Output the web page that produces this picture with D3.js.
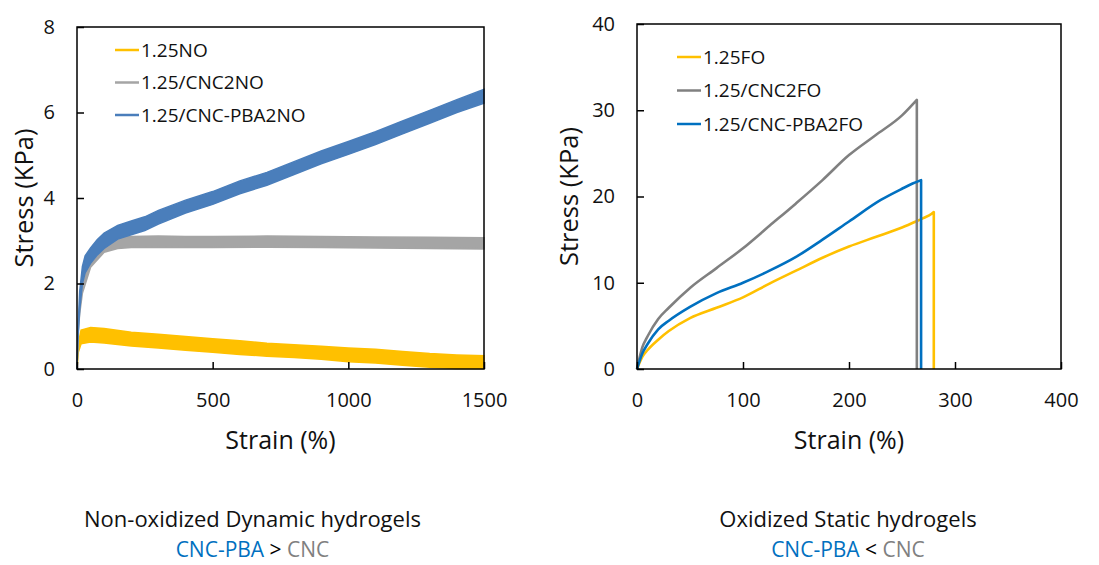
<!DOCTYPE html>
<html>
<head>
<meta charset="utf-8">
<script src="https://cdn.jsdelivr.net/npm/d3@7"></script>
<style>
  body { margin: 0; background: #fff; }
  svg text { font-family: "Open Sans", "Noto Sans", sans-serif; fill: #111; }
</style>
</head>
<body>
<svg id="chart" width="1099" height="565"></svg>
<script>
// ---- left panel data (non-oxidized, noisy curves drawn as bands) ----
const leftSeries = ['1.25NO', '1.25/CNC2NO', '1.25/CNC-PBA2NO'];
const leftXTicks = [0, 500, 1000, 1500];
const leftYTicks = [0, 2, 4, 6, 8];

const noStrain     = [0, 5, 15, 50, 100, 200, 300, 400, 500, 600, 700, 800, 900, 1000, 1100, 1200, 1300, 1400, 1500];
const noStress     = [0, 0.5, 0.75, 0.8, 0.78, 0.7, 0.65, 0.6, 0.55, 0.5, 0.45, 0.42, 0.38, 0.33, 0.3, 0.25, 0.2, 0.17, 0.16];
const noNoise      = [0, 0.1, 0.16, 0.17, 0.17, 0.16, 0.16, 0.16, 0.16, 0.16, 0.15, 0.15, 0.15, 0.16, 0.16, 0.16, 0.16, 0.16, 0.15];

const cncNoStrain  = [0, 5, 10, 20, 50, 100, 150, 200, 300, 400, 500, 700, 900, 1100, 1300, 1500];
const cncNoStress  = [0, 1.0, 1.4, 1.9, 2.5, 2.85, 2.95, 2.97, 2.98, 2.97, 2.97, 2.98, 2.97, 2.96, 2.95, 2.94];
const cncNoNoise   = [0, 0.1, 0.1, 0.12, 0.12, 0.12, 0.13, 0.13, 0.13, 0.13, 0.13, 0.13, 0.13, 0.13, 0.13, 0.13];

const pbaNoStrain  = [0, 5, 10, 20, 30, 50, 75, 100, 150, 200, 250, 300, 400, 500, 600, 700, 800, 900, 1000, 1100, 1200, 1300, 1400, 1500];
const pbaNoStress  = [0, 1.0, 1.6, 2.2, 2.45, 2.65, 2.85, 3.0, 3.2, 3.3, 3.4, 3.55, 3.8, 4.0, 4.25, 4.45, 4.7, 4.95, 5.17, 5.4, 5.65, 5.9, 6.15, 6.38];
const pbaNoNoise   = [0, 0.12, 0.22, 0.2, 0.2, 0.18, 0.18, 0.18, 0.16, 0.16, 0.16, 0.16, 0.15, 0.15, 0.15, 0.15, 0.15, 0.15, 0.15, 0.15, 0.15, 0.15, 0.15, 0.16];

// ---- right panel data (oxidized, smooth curves; last point = break to 0) ----
const rightSeries = ['1.25FO', '1.25/CNC2FO', '1.25/CNC-PBA2FO'];
const rightXTicks = [0, 100, 200, 300, 400];
const rightYTicks = [0, 10, 20, 30, 40];

const foStrain    = [0, 5, 10, 20, 30, 50, 75, 100, 125, 150, 175, 200, 225, 250, 263, 270, 278, 280, 280];
const foStress    = [0, 1.4, 2.2, 3.4, 4.4, 5.9, 7.1, 8.3, 9.9, 11.4, 12.9, 14.2, 15.3, 16.4, 17.1, 17.5, 18.0, 18.2, 0];

const cncFoStrain = [0, 5, 10, 20, 30, 50, 75, 100, 125, 150, 175, 200, 225, 250, 264, 264];
const cncFoStress = [0, 2.5, 3.8, 5.8, 7.1, 9.4, 11.7, 14.0, 16.6, 19.2, 21.9, 24.8, 27.1, 29.4, 31.2, 0];

const pbaFoStrain = [0, 5, 10, 20, 30, 50, 75, 100, 125, 150, 175, 200, 230, 250, 260, 268, 268];
const pbaFoStress = [0, 1.8, 2.9, 4.6, 5.6, 7.2, 8.8, 10.0, 11.4, 13.0, 15.0, 17.1, 19.6, 20.9, 21.5, 21.9, 0];

const captions = [
  { title: 'Non-oxidized Dynamic hydrogels', sign: ' > ' },
  { title: 'Oxidized Static hydrogels', sign: ' < ' }
];

const zip = (xs, ys, ns) => xs.map((x, i) => ({ x: x, y: ys[i], n: ns ? ns[i] : 0 }));

const svg = d3.select('#chart');

function drawPanel(cfg) {
  const g = svg.append('g');
  const x = d3.scaleLinear().domain(cfg.xDomain).range([cfg.left, cfg.right]);
  const y = d3.scaleLinear().domain(cfg.yDomain).range([cfg.bottom, cfg.top]);

  // curves
  cfg.lines.forEach(function (s) {
    if (s.band) {
      g.append('path')
        .datum(s.data)
        .attr('fill', s.color)
        .attr('stroke', s.color)
        .attr('stroke-width', 1.5)
        .attr('d', d3.area()
          .x(d => x(d.x))
          .y0(d => y(Math.max(0, d.y - d.n)))
          .y1(d => y(d.y + d.n)));
    } else {
      // smooth rise, then straight drop at break
      const rise = s.data.slice(0, -1);
      const last = s.data[s.data.length - 1];
      const smooth = d3.line()
        .x(d => x(d.x))
        .y(d => y(d.y))
        .curve(d3.curveMonotoneX);
      g.append('path')
        .attr('fill', 'none')
        .attr('stroke', s.color)
        .attr('stroke-width', 2.6)
        .attr('stroke-linejoin', 'round')
        .attr('d', smooth(rise) + 'L' + x(last.x) + ',' + y(last.y));
    }
  });

  // frame
  g.append('rect')
    .attr('x', cfg.left).attr('y', cfg.top)
    .attr('width', cfg.right - cfg.left).attr('height', cfg.bottom - cfg.top)
    .attr('fill', 'none').attr('stroke', '#000').attr('stroke-width', 1.5);

  // axes, ticks inside
  g.append('g')
    .attr('transform', 'translate(0,' + cfg.bottom + ')')
    .call(d3.axisBottom(x).tickValues(cfg.xTicks).tickFormat(d3.format('d')).tickSize(-7).tickPadding(24))
    .call(a => a.select('.domain').remove())
    .call(a => a.selectAll('.tick line').attr('stroke', '#000').attr('stroke-width', 1.5))
    .call(a => a.selectAll('.tick text').style('font-size', '20px').attr('fill', '#111'));

  g.append('g')
    .attr('transform', 'translate(' + cfg.left + ',0)')
    .call(d3.axisLeft(y).tickValues(cfg.yTicks).tickFormat(d3.format('d')).tickSize(-7).tickPadding(22))
    .call(a => a.select('.domain').remove())
    .call(a => a.selectAll('.tick line').attr('stroke', '#000').attr('stroke-width', 1.5))
    .call(a => a.selectAll('.tick text').style('font-size', '20px').attr('fill', '#111'));

  // axis titles
  g.append('text')
    .attr('x', (cfg.left + cfg.right) / 2)
    .attr('y', cfg.bottom + 80)
    .attr('text-anchor', 'middle')
    .style('font-size', '25px')
    .text('Strain (%)');

  g.append('text')
    .attr('transform', 'translate(' + cfg.yTitleX + ',' + ((cfg.top + cfg.bottom) / 2) + ') rotate(-90)')
    .attr('text-anchor', 'middle')
    .attr('dy', '0.35em')
    .style('font-size', '25.5px')
    .text('Stress (KPa)');

  // legend
  cfg.lines.forEach(function (s, i) {
    const ly = cfg.legendY + i * cfg.legendGap;
    g.append('line')
      .attr('x1', cfg.legendX).attr('x2', cfg.legendX + 24)
      .attr('y1', ly).attr('y2', ly)
      .attr('stroke', s.color).attr('stroke-width', 2.5);
    g.append('text')
      .attr('x', cfg.legendX + 26).attr('y', ly)
      .attr('dy', '0.35em')
      .style('font-size', '19px')
      .text(s.name);
  });

  // caption below
  const cx = (cfg.left + cfg.right) / 2 + cfg.capShift;
  g.append('text')
    .attr('x', cx).attr('y', 527)
    .attr('text-anchor', 'middle')
    .style('font-size', '22px')
    .text(cfg.caption.title);
  const t = g.append('text')
    .attr('x', cx).attr('y', 557)
    .attr('text-anchor', 'middle')
    .style('font-size', '21px');
  t.append('tspan').style('fill', '#0070C0').text('CNC-PBA');
  t.append('tspan').style('fill', '#000').text(cfg.caption.sign);
  t.append('tspan').style('fill', '#808080').text('CNC');
}

drawPanel({
  left: 77, right: 484, top: 27, bottom: 369,
  xDomain: [0, 1500], yDomain: [0, 8],
  xTicks: leftXTicks, yTicks: leftYTicks,
  yTitleX: 24,
  legendX: 115, legendY: 50, legendGap: 32.5,
  caption: captions[0], capShift: -28,
  lines: [
    { name: leftSeries[0], color: '#FFC000', band: true, data: zip(noStrain, noStress, noNoise) },
    { name: leftSeries[1], color: '#A5A5A5', band: true, data: zip(cncNoStrain, cncNoStress, cncNoNoise) },
    { name: leftSeries[2], color: '#4A7EBB', band: true, data: zip(pbaNoStrain, pbaNoStress, pbaNoNoise) }
  ]
});

drawPanel({
  left: 637, right: 1061, top: 24, bottom: 369,
  xDomain: [0, 400], yDomain: [0, 40],
  xTicks: rightXTicks, yTicks: rightYTicks,
  yTitleX: 569,
  legendX: 677, legendY: 57, legendGap: 33.5,
  caption: captions[1], capShift: -1,
  lines: [
    { name: rightSeries[0], color: '#FFC000', band: false, data: zip(foStrain, foStress) },
    { name: rightSeries[1], color: '#808080', band: false, data: zip(cncFoStrain, cncFoStress) },
    { name: rightSeries[2], color: '#0070C0', band: false, data: zip(pbaFoStrain, pbaFoStress) }
  ]
});
</script>
</body>
</html>
